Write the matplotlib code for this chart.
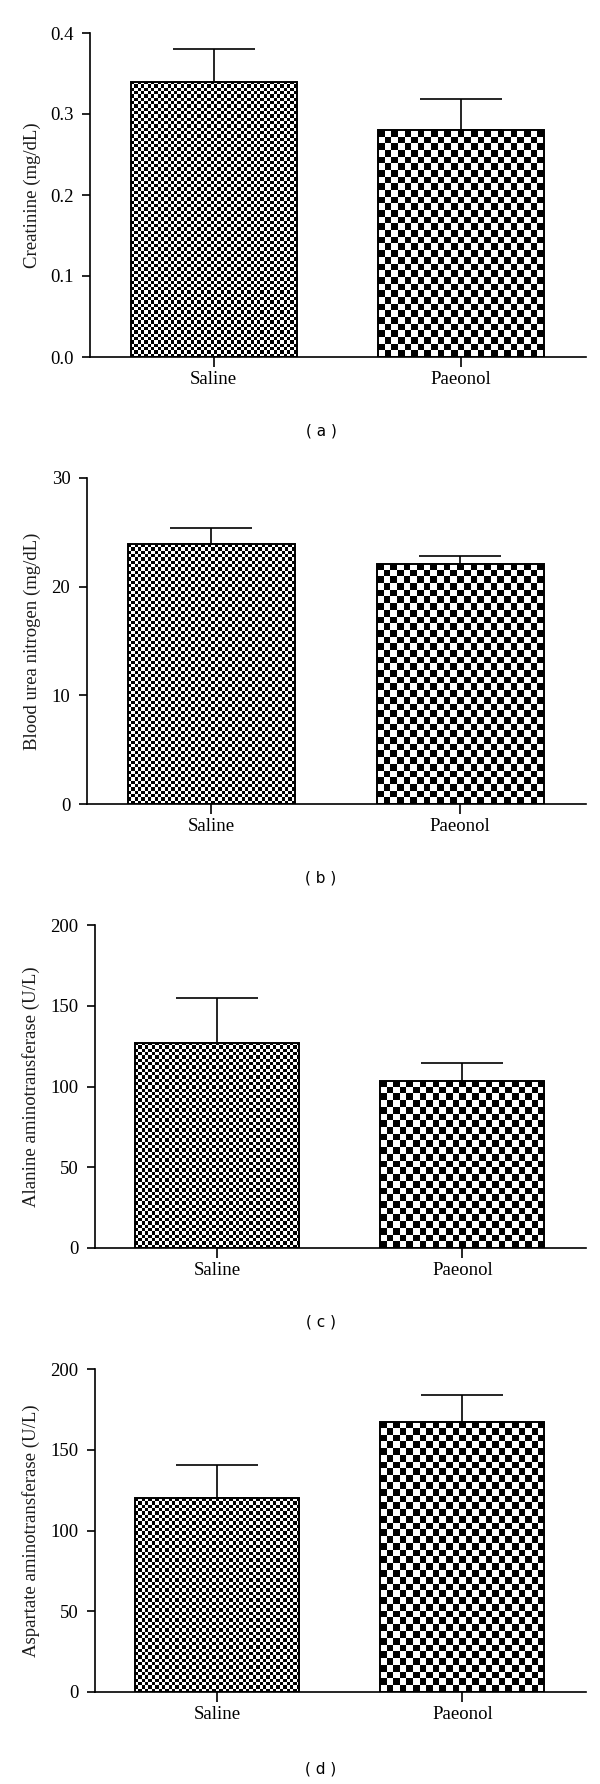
import numpy as np
import matplotlib
matplotlib.use('Agg')
import matplotlib.pyplot as plt

# ---------------- data ----------------
groups = ['Saline', 'Paeonol']
panel_tags = ['( a )', '( b )', '( c )', '( d )']
ylabels = ['Creatinine (mg/dL)', 'Blood urea nitrogen (mg/dL)',
           'Alanine aminotransferase (U/L)', 'Aspartate aminotransferase (U/L)']

creatinine_mean = [0.34, 0.28]
creatinine_sem = [0.040, 0.038]
bun_mean = [23.9, 22.1]
bun_sem = [1.5, 0.7]
alt_mean = [127.0, 103.5]
alt_sem = [28.0, 11.0]
ast_mean = [120.0, 167.2]
ast_sem = [20.6, 17.0]

yticks_a = [0.0, 0.1, 0.2, 0.3, 0.4]
yticklabels_a = ['0.0', '0.1', '0.2', '0.3', '0.4']
yticks_b = [0, 10, 20, 30]
yticks_cd = [0, 50, 100, 150, 200]

means = [creatinine_mean, bun_mean, alt_mean, ast_mean]
sems = [creatinine_sem, bun_sem, alt_sem, ast_sem]
yticks = [yticks_a, yticks_b, yticks_cd, yticks_cd]
yticklabels = [yticklabels_a, [str(v) for v in yticks_b],
               [str(v) for v in yticks_cd], [str(v) for v in yticks_cd]]

# ---------------- layout (pixels) ----------------
W, H = 600, 1784
axes_px = [  # left, top, bottom, right
    (90, 33, 357, 586),
    (87, 478, 804, 586),
    (95, 925, 1248, 586),
    (95, 1369, 1692, 586),
]
ylabel_x_px = [32, 32, 31, 31]
tag_y_px = [431, 878, 1322, 1769]
tag_x_px = 321
cell_px = [3.33, 6.67]  # checker cell size for Saline, Paeonol

SERIF = 'Liberation Serif'
FS = 13.5

fig = plt.figure(figsize=(W / 100, H / 100), dpi=100)
fig.patch.set_facecolor('white')

x = np.arange(len(groups))
bar_w = 0.67

for i in range(4):
    l, t, b, r = axes_px[i]
    ax = fig.add_axes([l / W, 1 - b / H, (r - l) / W, (b - t) / H])
    ymax = yticks[i][-1]
    ax.set_xlim(-0.5, 1.505)
    ax.set_ylim(0, ymax)

    # error bars (upper only), behind bars
    ax.errorbar(x, means[i], yerr=[np.zeros(len(groups)), sems[i]], fmt='none',
                ecolor='black', elinewidth=1.2, capsize=29.5, capthick=1.2, zorder=1)

    bars = ax.bar(x, means[i], width=bar_w, color='white', edgecolor='none', zorder=2)
    fig.canvas.draw()
    for j, bar in enumerate(bars):
        ext = bar.get_window_extent()
        nx = max(1, int(round(ext.width / cell_px[j])))
        ny = max(1, int(round(ext.height / cell_px[j])))
        checker = (np.indices((ny, nx)).sum(axis=0) % 2).astype(float)
        x0 = bar.get_x()
        im = ax.imshow(checker, cmap='gray', vmin=0, vmax=1, interpolation='nearest',
                       extent=(x0, x0 + bar.get_width(), 0, bar.get_height()),
                       aspect='auto', zorder=2.5)
        im.set_clip_path(bar)
    ax.bar(x, means[i], width=bar_w, facecolor='none', edgecolor='black',
           linewidth=1.4, zorder=3)

    ax.set_xlim(-0.5, 1.505)
    ax.set_ylim(0, ymax)
    ax.set_aspect('auto')

    for s in ['top', 'right']:
        ax.spines[s].set_visible(False)
    for s in ['left', 'bottom']:
        ax.spines[s].set_linewidth(1.2)

    ax.set_xticks(x)
    ax.set_xticklabels(groups, fontsize=FS, family=SERIF)
    ax.set_yticks(yticks[i])
    ax.set_yticklabels(yticklabels[i], fontsize=FS, family=SERIF)
    ax.tick_params(axis='y', direction='out', length=6, width=1.2, pad=6)
    ax.tick_params(axis='x', direction='out', length=7, width=1.2, pad=3)

    fig.text(ylabel_x_px[i] / W, 1 - ((t + b) / 2) / H, ylabels[i], rotation=90,
             ha='center', va='center', fontsize=FS, family=SERIF, color='#1a1a1a')
    fig.text(tag_x_px / W, 1 - tag_y_px[i] / H, panel_tags[i], ha='center', va='center',
             fontsize=11, family='DejaVu Sans')

fig.savefig('out.png', dpi=100, facecolor='white')
